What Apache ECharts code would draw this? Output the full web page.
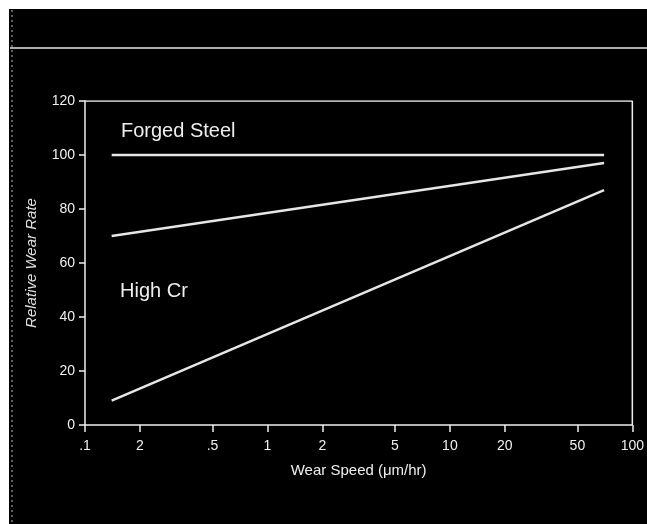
<!DOCTYPE html>
<html>
<head>
<meta charset="utf-8">
<script src="https://cdn.jsdelivr.net/npm/echarts@6/dist/echarts.min.js"></script>
<style>
html,body{margin:0;padding:0;background:#fff;}
#chart{width:647px;height:524px;}
</style>
</head>
<body>
<div id="chart"></div>
<script>
// Data
var xTickValues = [0.1, 0.2, 0.5, 1, 2, 5, 10, 20, 50, 100];
var xTickLabels = ['.1', '2', '.5', '1', '2', '5', '10', '20', '50', '100'];
var yTickValues = [0, 20, 40, 60, 80, 100, 120];
var lineX = [0.14, 70];
var forgedSteel = [100, 100];
var middleLine = [70, 97];
var highCr = [9, 87];

var chart = echarts.init(document.getElementById('chart'), null, {renderer: 'canvas'});

function pairs(xs, ys) { return xs.map(function (x, i) { return [x, ys[i]]; }); }

var FONT = 'Liberation Sans, Arial, sans-serif';
var lineStyle = {color: '#e6e6e6', width: 2.5};

chart.setOption({
  backgroundColor: '#ffffff',
  animation: false,
  graphic: [
    {type: 'rect', z: -10, shape: {x: 9, y: 9, width: 640, height: 520}, style: {fill: '#000000'}},
    {type: 'line', z: 5, shape: {x1: 10, y1: 48, x2: 647, y2: 48}, style: {stroke: '#e8e8e8', lineWidth: 1.5}},
    {type: 'line', z: 5, shape: {x1: 12, y1: 10, x2: 12, y2: 524}, style: {stroke: '#bdbdbd', lineWidth: 1, lineDash: [2, 3]}},
    {type: 'text', z: 10, left: 121, top: 121, style: {text: 'Forged Steel', fill: '#eeeeee', font: '20px "Liberation Sans", Arial, sans-serif'}},
    {type: 'text', z: 10, left: 120, top: 281, style: {text: 'High Cr', fill: '#eeeeee', font: '20px "Liberation Sans", Arial, sans-serif'}}
  ],
  grid: {left: 85, right: 13, top: 101, bottom: 99, show: false},
  xAxis: {
    type: 'log',
    logBase: 10,
    min: 0.1,
    max: 100,
    name: 'Wear Speed (μm/hr)',
    nameLocation: 'middle',
    nameGap: 38,
    nameTextStyle: {color: '#eeeeee', fontSize: 15, fontFamily: FONT},
    axisLine: {show: true, lineStyle: {color: '#f0f0f0', width: 1.5}},
    axisTick: {show: true, length: 7, customValues: xTickValues, lineStyle: {color: '#f0f0f0', width: 1.5}},
    axisLabel: {
      show: true,
      customValues: xTickValues,
      margin: 14,
      color: '#f0f0f0',
      fontSize: 14,
      fontFamily: FONT,
      formatter: function (v) {
        for (var i = 0; i < xTickValues.length; i++) {
          if (Math.abs(xTickValues[i] - v) / xTickValues[i] < 1e-6) return xTickLabels[i];
        }
        return '';
      }
    },
    minorTick: {show: false},
    splitLine: {show: false}
  },
  yAxis: {
    type: 'value',
    min: 0,
    max: 120,
    interval: 20,
    name: 'Relative Wear Rate',
    nameLocation: 'middle',
    nameGap: 46,
    nameRotate: 90,
    nameTextStyle: {color: '#e0e0e0', fontSize: 15, fontStyle: 'italic', fontFamily: FONT},
    axisLine: {show: true, lineStyle: {color: '#f0f0f0', width: 1.5}},
    axisTick: {show: true, length: 6, lineStyle: {color: '#f0f0f0', width: 1.5}},
    axisLabel: {color: '#f0f0f0', fontSize: 14, margin: 10, fontFamily: FONT, customValues: yTickValues},
    splitLine: {show: false}
  },
  series: [
    {type: 'line', data: pairs(lineX, forgedSteel), symbol: 'none', lineStyle: lineStyle},
    {type: 'line', data: pairs(lineX, middleLine), symbol: 'none', lineStyle: lineStyle},
    {type: 'line', data: pairs(lineX, highCr), symbol: 'none', lineStyle: lineStyle},
    {type: 'line', data: [[0.1, 120], [100, 120], [100, 0]], symbol: 'none', lineStyle: {color: '#f0f0f0', width: 1.5}, silent: true}
  ]
});
</script>
</body>
</html>
